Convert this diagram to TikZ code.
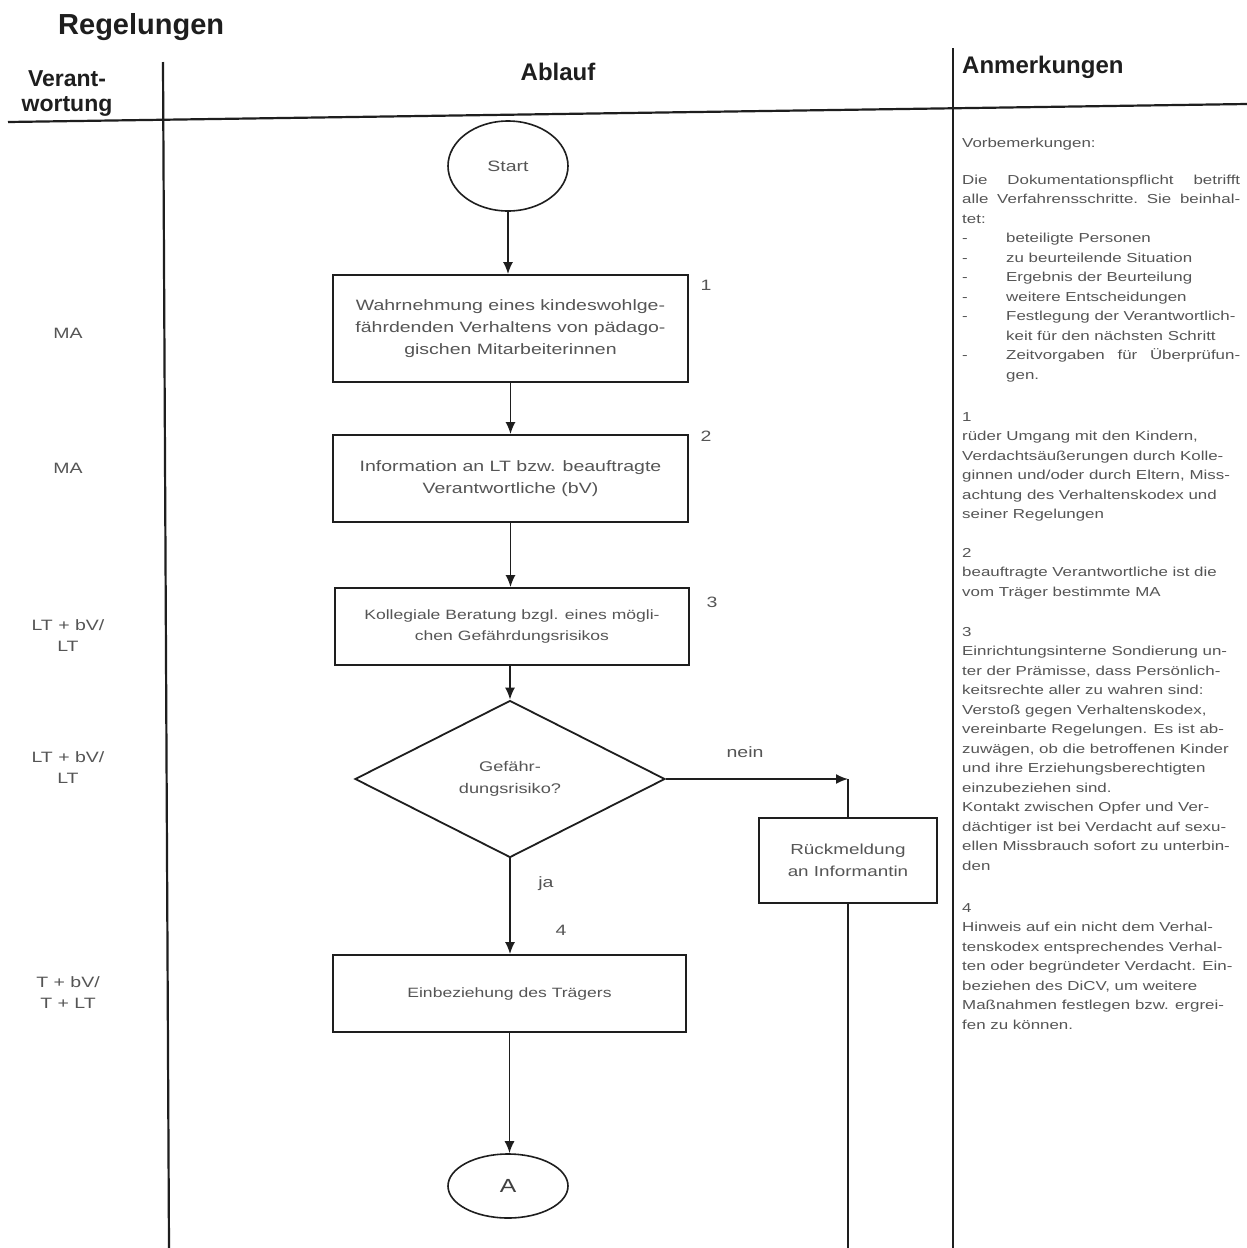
\documentclass[tikz,border=0pt]{standalone}
\usepackage{fontspec}
\setmainfont{Liberation Sans}
\newfontfamily\scanfont[FakeStretch=1.3]{Liberation Sans}
\usetikzlibrary{shapes.geometric,arrows.meta}
\definecolor{ink}{HTML}{555555}
\definecolor{rule}{HTML}{1E1E1E}
\newcommand{\bodyfont}{\scanfont\fontsize{13}{19.5}\selectfont}
\newcommand{\itm}[1]{\makebox[44pt][l]{-}#1}
\begin{document}
\begin{tikzpicture}[x=1pt,y=-1pt,
  frameline/.style={line width=2.2pt, draw=rule},
  box/.style={draw=rule, line width=1.8pt, rectangle, inner sep=0pt, align=center, text=ink,
    font=\scanfont\fontsize{15}{22}\selectfont},
  smallbox/.style={box, font=\scanfont\fontsize{13.5}{21}\selectfont},
  oval/.style={draw=rule, line width=1.6pt, ellipse, inner sep=0pt, text=ink,
    font=\scanfont\fontsize{15}{18}\selectfont},
  flow/.style={line width=1.7pt, draw=rule, -{Latex[length=12pt,width=10pt]}},
  plain/.style={line width=1.7pt, draw=rule},
  lbl/.style={inner sep=0pt, text=ink, align=center, font=\scanfont\fontsize{15}{21}\selectfont},
  head/.style={inner sep=0pt, text=rule, font=\bfseries\fontsize{24}{25}\selectfont},
  note/.style={inner sep=0pt, anchor=base west, text=ink, font=\bodyfont}
]
\useasboundingbox (0,0) rectangle (1247,1248);
\fill[white] (0,0) rectangle (1247,1248);

% frame
\draw[frameline] (8,122) -- (1247,104);
\draw[frameline] (163,62) -- (169,1248);
\draw[frameline] (953,48) -- (953,1248);

% headings
\node[head, font=\bfseries\fontsize{29}{30}\selectfont, anchor=base west] (title) at (58,34) {Regelungen};
\node[head, align=center, font=\bfseries\fontsize{23}{25}\selectfont] (hverant) at (67,94) {Verant-\\wortung};
\node[head] (hablauf) at (558,72) {Ablauf};
\node[head, anchor=west] (hanm) at (962,67) {Anmerkungen};

% flowchart nodes
\node[oval, minimum width=120pt, minimum height=90pt] (start) at (508,166) {Start};
\node[box, minimum width=355pt, minimum height=107pt] (b1) at (510.5,328.5)
  {Wahrnehmung eines kindeswohlge-\\fährdenden Verhaltens von pädago-\\gischen Mitarbeiterinnen};
\node[box, minimum width=355pt, minimum height=87pt] (b2) at (510.5,478.5)
  {Information an LT bzw. beauftragte\\Verantwortliche (bV)};
\node[smallbox, minimum width=354pt, minimum height=77pt] (b3) at (512,626.5)
  {Kollegiale Beratung bzgl. eines mögli-\\chen Gefährdungsrisikos};
\node[diamond, draw=rule, line width=1.8pt, inner sep=0pt, minimum width=310pt, minimum height=157pt,
  align=center, text=ink, font=\scanfont\fontsize{14}{22}\selectfont] (dia) at (510,779)
  {Gefähr-\\dungsrisiko?};
\node[box, font=\scanfont\fontsize{14.5}{22}\selectfont, minimum width=178pt, minimum height=85pt] (rm) at (848,860.5)
  {Rückmeldung\\an Informantin};
\node[smallbox, minimum width=353pt, minimum height=77pt] (b4) at (509.5,993.5)
  {Einbeziehung des Trägers};
\node[oval, font=\scanfont\fontsize{19}{20}\selectfont, text=rule!85, minimum width=120pt, minimum height=64pt] (A) at (508,1186) {A};

\coordinate (j) at (848,779);
\coordinate (bot) at (848,1248);

% connectors
\draw[flow] (start.south) -- (start.south |- b1.north);
\draw[flow] (b1.south) -- (b2.north);
\draw[flow] (b2.south) -- (b2.south |- b3.north);
\draw[flow] (dia.north |- b3.south) -- (dia.north);
\draw[flow] (dia.south) -- (dia.south |- b4.north);
\draw[flow] (b4.south) -- (b4.south |- A.north);
\draw[flow] (dia.east) -- (j);
\draw[plain] (rm.north) -- (j);
\draw[plain] (rm.south) -- (bot);

% flow labels
\node[lbl] (n1) at (706,285) {1};
\node[lbl] (n2) at (706,436) {2};
\node[lbl] (n3) at (712,602) {3};
\node[lbl] (n4) at (561,930) {4};
\node[lbl] (ja) at (546,884) {ja};
\node[lbl] (nein) at (745,752) {nein};

% responsibilities
\node[lbl] (r1) at (68,333) {MA};
\node[lbl] (r2) at (68,468) {MA};
\node[lbl] (r3) at (68,636) {LT + bV/\\LT};
\node[lbl] (r4) at (68,768) {LT + bV/\\LT};
\node[lbl] (r5) at (68,993) {T + bV/\\T + LT};

% remarks
\node[note] (pre) at (962,147) {\parbox[t]{278pt}{\raggedright
Vorbemerkungen:}};
\node[note] (doc) at (962,184) {\parbox[t]{278pt}{\raggedright
Die\hfill Dokumentationspflicht\hfill betrifft\\
alle\hfill Verfahrensschritte.\hfill Sie\hfill beinhal-\\
tet:\\
\itm{beteiligte Personen}\\
\itm{zu beurteilende Situation}\\
\itm{Ergebnis der Beurteilung}\\
\itm{weitere Entscheidungen}\\
\itm{Festlegung der Verantwortlich-}\\
\hspace*{44pt}keit für den nächsten Schritt\\
\makebox[44pt][l]{-}Zeitvorgaben\hfill für\hfill Überprüfun-\\
\hspace*{44pt}gen.}};
\node[note] (s1) at (962,421) {\parbox[t]{278pt}{\raggedright
1\\
rüder Umgang mit den Kindern,\\
Verdachtsäußerungen durch Kolle-\\
ginnen und/oder durch Eltern, Miss-\\
achtung des Verhaltenskodex und\\
seiner Regelungen}};
\node[note] (s2) at (962,557) {\parbox[t]{278pt}{\raggedright
2\\
beauftragte Verantwortliche ist die\\
vom Träger bestimmte MA}};
\node[note] (s3) at (962,636) {\parbox[t]{278pt}{\raggedright
3\\
Einrichtungsinterne Sondierung un-\\
ter der Prämisse, dass Persönlich-\\
keitsrechte aller zu wahren sind:\\
Verstoß gegen Verhaltenskodex,\\
vereinbarte Regelungen. Es ist ab-\\
zuwägen, ob die betroffenen Kinder\\
und ihre Erziehungsberechtigten\\
einzubeziehen sind.\\
Kontakt zwischen Opfer und Ver-\\
dächtiger ist bei Verdacht auf sexu-\\
ellen Missbrauch sofort zu unterbin-\\
den}};
\node[note] (s4) at (962,912) {\parbox[t]{278pt}{\raggedright
4\\
Hinweis auf ein nicht dem Verhal-\\
tenskodex entsprechendes Verhal-\\
ten oder begründeter Verdacht. Ein-\\
beziehen des DiCV, um weitere\\
Maßnahmen festlegen bzw. ergrei-\\
fen zu können.}};
\end{tikzpicture}
\end{document}
